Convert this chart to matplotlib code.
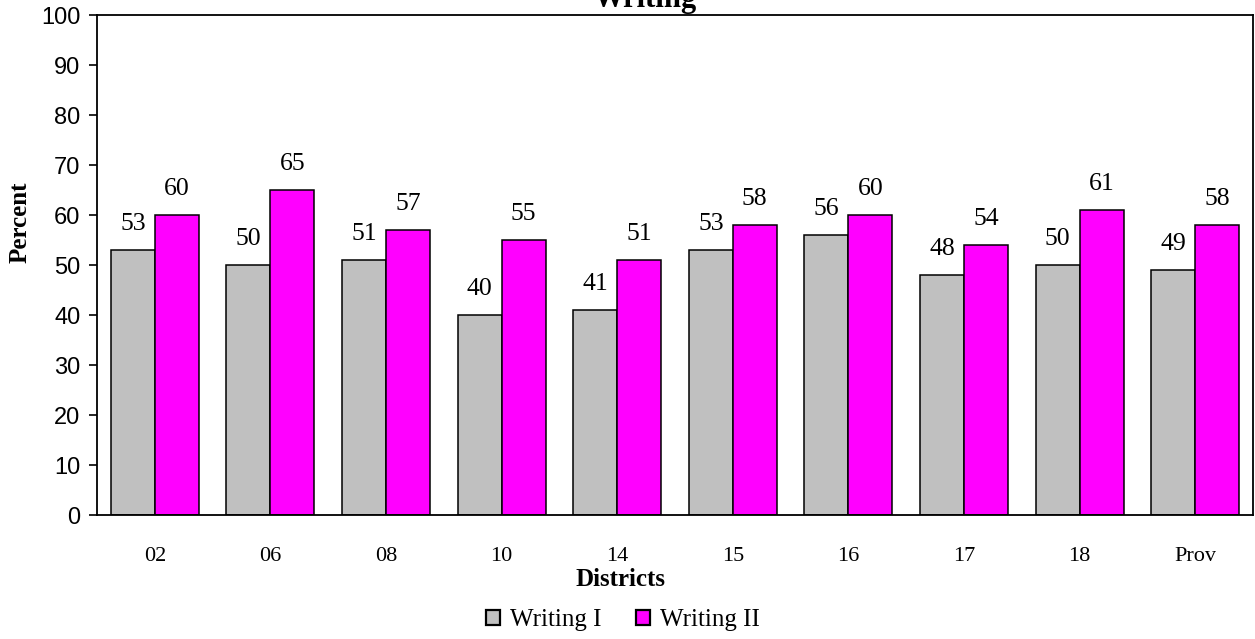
import numpy as np
import matplotlib.pyplot as plt

# ---- data ----
districts = ["02", "06", "08", "10", "14", "15", "16", "17", "18", "Prov"]
writing_1 = [53, 50, 51, 40, 41, 53, 56, 48, 50, 49]
writing_2 = [60, 65, 57, 55, 51, 58, 60, 54, 61, 58]
series_names = ["Writing I", "Writing II"]

SERIF = ["Liberation Serif", "DejaVu Serif"]
SANS = ["Liberation Sans", "DejaVu Sans"]

fig = plt.figure(figsize=(12.55, 6.39), dpi=100)
ax = fig.add_axes([97 / 1255, 124 / 639, 1156 / 1255, 500 / 639])

x = np.arange(len(districts))
w = 0.38

b1 = ax.bar(x - w / 2, writing_1, w, color="#C0C0C0", edgecolor="black",
            linewidth=1.1, label=series_names[0])
b2 = ax.bar(x + w / 2, writing_2, w, color="#FF00FF", edgecolor="black",
            linewidth=1.1, label=series_names[1])

# value labels above each bar
for bars, vals in ((b1, writing_1), (b2, writing_2)):
    for rect, v in zip(bars, vals):
        ax.annotate(f"{v}", (rect.get_x() + rect.get_width() / 2, v),
                    xytext=(0, 19), textcoords="offset points",
                    ha="center", va="center", fontsize=18.5, family=SERIF)

ax.set_xlim(-0.5, len(districts) - 0.5)
ax.set_ylim(0, 100)
ax.set_yticks(range(0, 101, 10))
ax.set_xticks(x)
ax.set_xticklabels(districts, family=SERIF, fontsize=16)
for lab in ax.get_yticklabels():
    lab.set_family(SANS)
    lab.set_fontsize(17)

ax.tick_params(axis="y", direction="out", length=6, width=1.2, pad=6)
ax.tick_params(axis="x", length=0, pad=23)
for s in ax.spines.values():
    s.set_linewidth(1.3)
    s.set_color("black")

fig.text(645 / 1255, 1 - 7 / 639, "Writing", ha="center", va="baseline",
         fontsize=22, fontweight="bold", family=SERIF)
fig.text(20 / 1255, 1 - 222 / 639, "Percent", rotation=90, ha="center",
         va="center", fontsize=18, fontweight="bold", family=SERIF)
fig.text(621 / 1255, 1 - 579 / 639, "Districts", ha="center", va="center",
         fontsize=18, fontweight="bold", family=SERIF)

leg = fig.legend(handles=[b1, b2], loc="center",
                 bbox_to_anchor=(623 / 1255, 1 - 620 / 639),
                 ncol=2, frameon=False, prop={"family": SERIF, "size": 18},
                 handlelength=0.55, handleheight=0.55, handletextpad=0.4,
                 columnspacing=1.4, borderaxespad=0)
for h in leg.legend_handles:
    h.set_linewidth(1.6)

fig.savefig("out.png", dpi=100)
